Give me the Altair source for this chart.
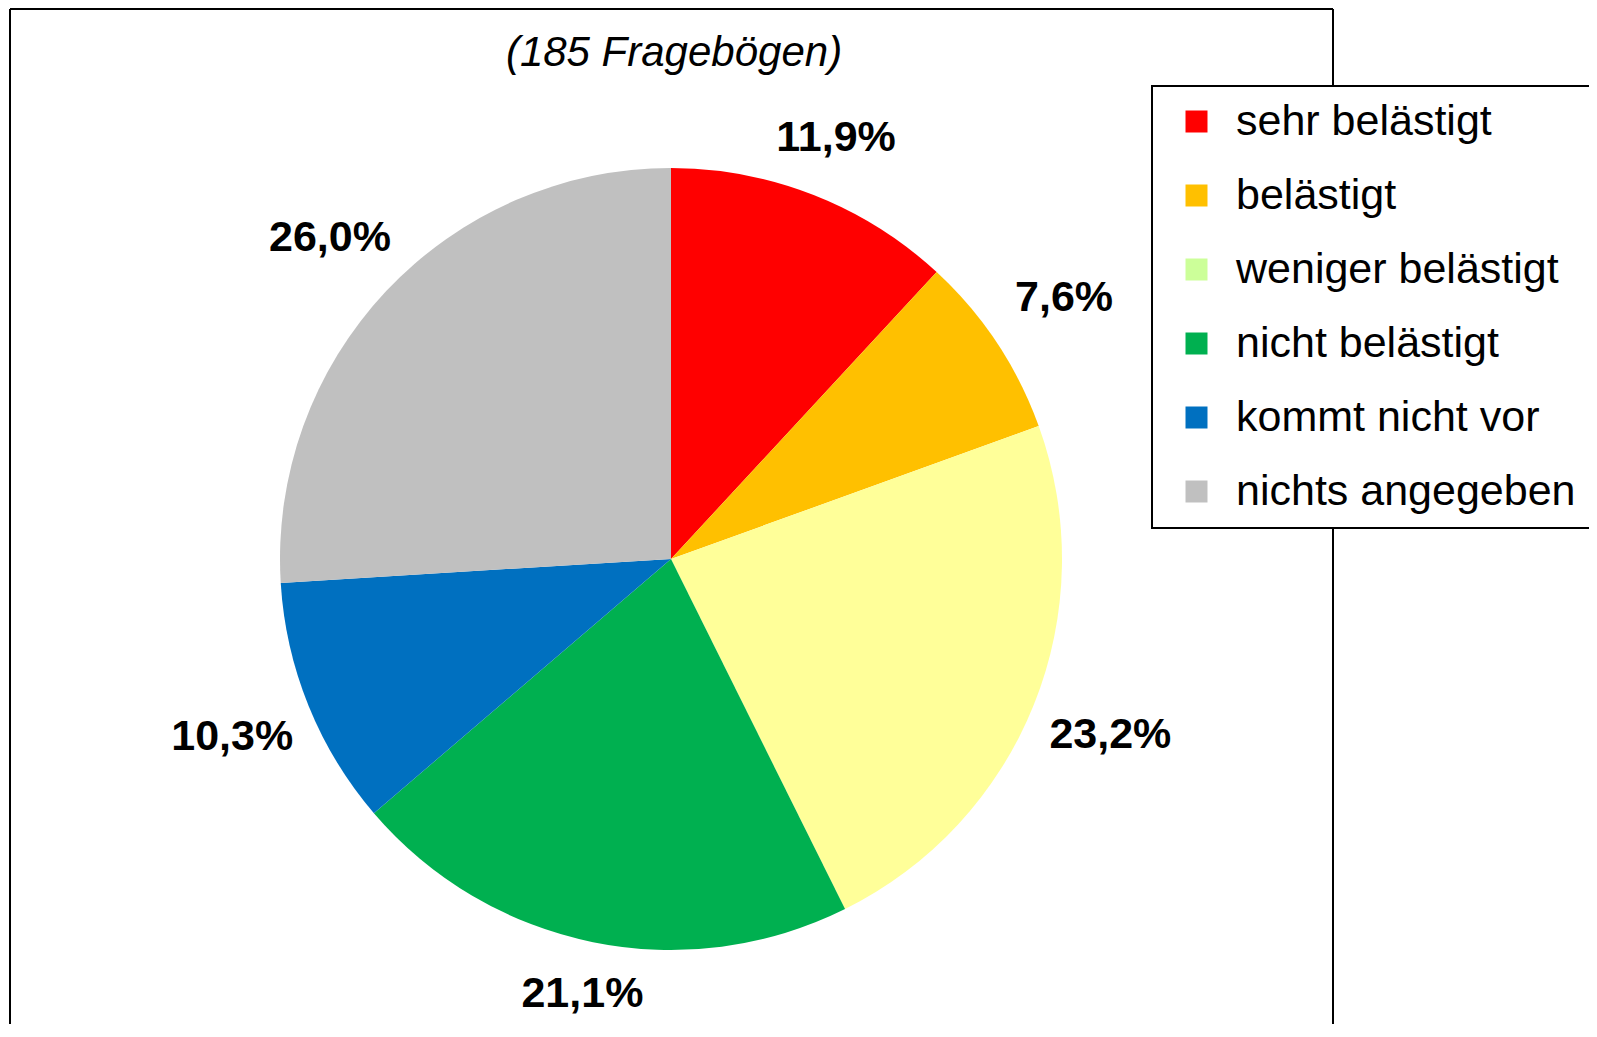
import altair as alt
import pandas as pd

# ---- data ----
categories = ["sehr belästigt", "belästigt", "weniger belästigt",
              "nicht belästigt", "kommt nicht vor", "nichts angegeben"]
values = [11.9, 7.6, 23.2, 21.1, 10.3, 26.0]
slice_colors = ["#FF0000", "#FFC000", "#FFFF99", "#00B050", "#0070C0", "#C0C0C0"]
legend_colors = ["#FF0000", "#FFC000", "#CCFF99", "#00B050", "#0070C0", "#C0C0C0"]
subtitle = "(185 Fragebögen)"

df = pd.DataFrame({
    "kategorie": categories,
    "anteil": values,
    "idx": list(range(len(categories))),
    "label": [f"{v:.1f}".replace(".", ",") + "%" for v in values],
})
one = pd.DataFrame({"k": [0]})

W, H = 1323, 1016
CX, CY = 661, 551
R = 391
GAP = 22          # gap between pie edge and label box
HALF_W, HALF_H = 57, 20   # half size of a label box
FONT = "Liberation Sans"

base = alt.Chart(df)
theta = alt.Theta("anteil:Q", stack=True)
order = alt.Order("idx:Q")

pie = base.mark_arc(outerRadius=R).encode(
    theta=theta,
    order=order,
    color=alt.Color("kategorie:N", sort=categories,
                    scale=alt.Scale(domain=categories, range=slice_colors),
                    legend=None),
    x=alt.value(CX), y=alt.value(CY),
)

legend_layer = base.mark_arc(outerRadius=R, opacity=0).encode(
    theta=theta,
    order=order,
    color=alt.Color("kategorie:N", sort=categories,
                    scale=alt.Scale(domain=categories, range=legend_colors),
                    legend=alt.Legend(title=None, orient="none", legendX=1142, legendY=78,
                                      symbolType="square", symbolSize=484,
                                      symbolOpacity=1, symbolStrokeWidth=0,
                                      labelFont=FONT, labelFontSize=43, labelColor="black",
                                      labelOffset=18, labelLimit=600,
                                      padding=14, symbolOffset=9, rowPadding=30,
                                      strokeColor="black", fillColor="white",
                                      zindex=2)),
    x=alt.value(CX), y=alt.value(CY),
)

labels = base.transform_joinaggregate(
    total="sum(anteil)"
).transform_window(
    cum="sum(anteil)", sort=[alt.SortField("idx")], frame=[None, 0]
).transform_calculate(
    mid=f"(datum.cum - datum.anteil / 2) / datum.total * 2 * PI",
    rlab=f"{R + GAP} + abs(sin(datum.mid)) * {HALF_W} + abs(cos(datum.mid)) * {HALF_H}",
).mark_text(font=FONT, fontSize=43, fontWeight="bold",
            color="black", align="center", baseline="middle").encode(
    theta=alt.Theta("mid:Q", scale=None),
    radius=alt.Radius("rlab:Q", scale=None),
    text="label:N",
    x=alt.value(CX), y=alt.value(CY),
)

title_text = alt.Chart(one).mark_text(text=subtitle, font=FONT, fontSize=42,
                                      fontStyle="italic", color="black",
                                      align="center", baseline="middle").encode(
    x=alt.value(664), y=alt.value(45))

frame_left = alt.Chart(one).mark_rule(color="black", strokeWidth=2).encode(
    x=alt.value(0), y=alt.value(1), y2=alt.value(H + 50))
frame_right = alt.Chart(one).mark_rule(color="black", strokeWidth=2).encode(
    x=alt.value(W), y=alt.value(1), y2=alt.value(H + 50))
frame_top = alt.Chart(one).mark_rule(color="black", strokeWidth=2).encode(
    x=alt.value(0), x2=alt.value(W), y=alt.value(1))

chart = alt.layer(
    frame_left, frame_right, frame_top, pie, legend_layer, labels, title_text
).resolve_scale(color="independent").properties(
    width=W, height=H,
    padding={"left": 2, "top": 0, "right": 256, "bottom": 0},
    autosize=alt.AutoSizeParams(type="none"),
    background="white",
).configure_view(stroke=None).configure_legend(strokeWidth=2)

chart.save("out.html", embed_options={"renderer": "svg", "actions": False})
